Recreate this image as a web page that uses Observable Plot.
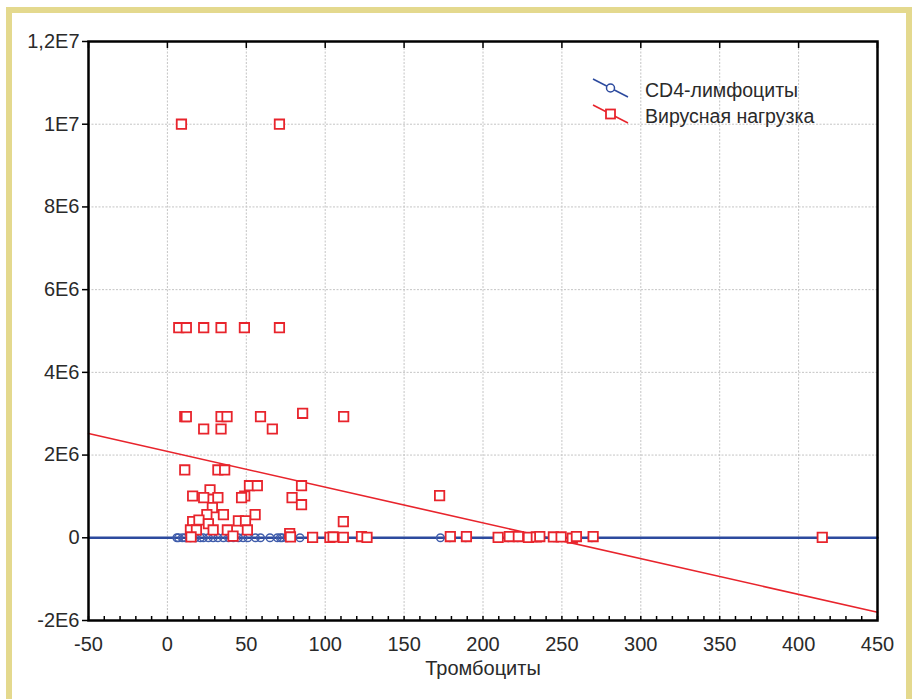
<!DOCTYPE html>
<html>
<head>
<meta charset="utf-8">
<script src="https://cdn.jsdelivr.net/npm/d3@7"></script>
<script src="https://cdn.jsdelivr.net/npm/@observablehq/plot@0.6"></script>
<style>
  body { margin: 0; background: #fff; }
  #wrap { position: relative; width: 912px; height: 699px; overflow: hidden; background: #fff; }
  #border { position: absolute; left: 6px; top: 7px; width: 906px; height: 760px; border: 6px solid #e4d98e; border-bottom: none; box-sizing: border-box; pointer-events: none; }
  #chart { position: absolute; left: 0; top: 0; }
  #legend { position: absolute; left: 0; top: 0; pointer-events: none; }
</style>
</head>
<body>
<div id="wrap">
  <div id="chart"></div>
  <svg id="legend" width="912" height="699"></svg>
  <div id="border"></div>
</div>
<script>
// ---- Data ----
// Вирусная нагрузка (viral load) vs Тромбоциты (platelets)
const vlX = [8.9, 71,
  7.2, 12, 23, 34, 48.8, 71,
  11, 12, 34, 37.8, 59, 111.7, 85.7,
  23, 34, 66.5,
  11, 32, 36.3,
  52, 57, 85,
  27,
  16, 49, 172.5,
  23, 32, 47, 79,
  85,
  28.5,
  25, 35.5, 55.6,
  45, 49.5, 111.5,
  16, 20, 26,
  14.6, 18.4, 29, 38, 50.7,
  15, 41.6, 77.5, 78, 92, 103, 105, 111.5, 123, 126.5,
  179.3, 189.5, 209.6, 216.7, 222.4, 228.8, 233.8, 236, 244.6, 249.5, 256.6, 259.2, 269.8, 415];
const vlY = [1.0e7, 1.0e7,
  5.08e6, 5.08e6, 5.08e6, 5.08e6, 5.08e6, 5.08e6,
  2.93e6, 2.93e6, 2.93e6, 2.93e6, 2.93e6, 2.93e6, 3.01e6,
  2.63e6, 2.63e6, 2.63e6,
  1.64e6, 1.64e6, 1.64e6,
  1.26e6, 1.26e6, 1.26e6,
  1.16e6,
  1.01e6, 1.01e6, 1.02e6,
  0.97e6, 0.97e6, 0.97e6, 0.97e6,
  0.80e6,
  0.73e6,
  0.56e6, 0.56e6, 0.56e6,
  0.41e6, 0.41e6, 0.39e6,
  0.39e6, 0.43e6, 0.34e6,
  0.19e6, 0.19e6, 0.19e6, 0.19e6, 0.19e6,
  2e4, 4e4, 1e5, 2e4, 1e4, 1e4, 2e4, 1e4, 3e4, 1e4,
  3e4, 3e4, 1e4, 3e4, 3e4, 1e4, 2e4, 3e4, 2e4, 2e4, -1e4, 3e4, 3e4, 1e4];

// CD4-лимфоциты vs Тромбоциты (values are tiny on this scale)
const cd4X = [6, 7, 9.5, 11.4, 14.6, 17.7, 20.9, 22.8, 26, 29, 32, 35.5, 38.7, 41.8, 45, 48, 51,
  55.8, 59, 65, 69.7, 71.6, 72.7, 75.8, 84, 173, 179, 189, 210, 216, 222, 234, 245, 257, 269];
const cd4Y = [420, 310, 560, 280, 390, 650, 240, 480, 350, 720, 300, 410, 520, 260, 610, 380, 450,
  330, 290, 540, 410, 360, 470, 250, 380, 600, 420, 510, 330, 460, 390, 280, 520, 440, 360];

// Fitted regression lines (end points at the x-domain edges)
const vlFitX = [-50, 450];
const vlFitY = [2.52e6, -1.80e6];
const cd4FitX = [-50, 450];
const cd4FitY = [480, 380];

// Axes
const xTicks = [-50, 0, 50, 100, 150, 200, 250, 300, 350, 400, 450];
const xTickLabels = ["-50", "0", "50", "100", "150", "200", "250", "300", "350", "400", "450"];
const xMinorTicks = d3.range(-50, 451, 10);
const yTicks = [-2e6, 0, 2e6, 4e6, 6e6, 8e6, 1e7, 1.2e7];
const yTickLabels = ["-2E6", "0", "2E6", "4E6", "6E6", "8E6", "1E7", "1,2E7"];
const xLabel = "Тромбоциты";
const seriesNames = ["CD4-лимфоциты", "Вирусная нагрузка"];

const RED = "#e8242c";
const BLUE = "#2c4a9e";
const FONT = "'Liberation Sans', Arial, sans-serif";

const vl = vlX.map((x, i) => ({x, y: vlY[i]}));
const cd4 = cd4X.map((x, i) => ({x, y: cd4Y[i]}));
const vlFit = vlFitX.map((x, i) => ({x, y: vlFitY[i]}));
const cd4Fit = cd4FitX.map((x, i) => ({x, y: cd4FitY[i]}));
const xLab = new Map(xTicks.map((t, i) => [t, xTickLabels[i]]));
const yLab = new Map(yTicks.map((t, i) => [t, yTickLabels[i]]));

const chart = Plot.plot({
  width: 912,
  height: 699,
  marginLeft: 88,
  marginRight: 35,
  marginTop: 41,
  marginBottom: 79,
  style: {fontFamily: FONT, fontSize: "20px", color: "#2a2a2a", background: "transparent"},
  x: {domain: [-50, 450]},
  y: {domain: [-2e6, 1.2e7]},
  marks: [
    Plot.gridX(xTicks, {stroke: "#c4c4c4", strokeOpacity: 1, strokeDasharray: "2,1.5"}),
    Plot.gridY(yTicks, {stroke: "#c4c4c4", strokeOpacity: 1, strokeDasharray: "2,1.5"}),
    Plot.line(vlFit, {x: "x", y: "y", stroke: RED, strokeWidth: 1.6}),
    Plot.line(cd4Fit, {x: "x", y: "y", stroke: BLUE, strokeWidth: 2.5}),
    Plot.dot(cd4, {x: "x", y: "y", r: 3.8, stroke: "#3f5cab", strokeWidth: 1.4, fill: "none"}),
    Plot.dot(vl, {x: "x", y: "y", symbol: "square", r: 5.3, stroke: RED, strokeWidth: 1.8, fill: "white"}),
    Plot.axisY(yTicks, {anchor: "left", tickSize: 6, tickPadding: 3, tickFormat: d => yLab.get(d), label: null, stroke: "black", strokeWidth: 1.5}),
    Plot.axisX(xTicks, {anchor: "bottom", tickSize: 0, tickPadding: 16, tickFormat: d => xLab.get(d), label: null}),
    Plot.axisX(xMinorTicks, {anchor: "bottom", tickSize: -4, tickFormat: () => "", label: null, stroke: "black", strokeWidth: 1.5}),
    Plot.axisX(xTicks, {anchor: "top", tickSize: -6, tickFormat: () => "", label: null, stroke: "black", strokeWidth: 1.5}),
    Plot.text([xLabel], {frameAnchor: "bottom", dy: 54, fontSize: 20, fill: "#2a2a2a"}),
    Plot.frame({stroke: "black", strokeWidth: 2.5})
  ]
});
document.getElementById("chart").appendChild(chart);

// Legend (drawn inside the plot area, top right)
const lg = d3.select("#legend");
const items = [
  {name: seriesNames[0], color: BLUE, symbol: "circle", y: 88},
  {name: seriesNames[1], color: RED, symbol: "square", y: 114}
];
items.forEach(it => {
  lg.append("line").attr("x1", 593).attr("y1", it.y - 9).attr("x2", 628).attr("y2", it.y + 9)
    .attr("stroke", it.color).attr("stroke-width", 1.5);
  if (it.symbol === "circle") {
    lg.append("circle").attr("cx", 610.5).attr("cy", it.y).attr("r", 4)
      .attr("fill", "white").attr("stroke", it.color).attr("stroke-width", 1.5);
  } else {
    lg.append("rect").attr("x", 606).attr("y", it.y - 4.5).attr("width", 9).attr("height", 9)
      .attr("fill", "white").attr("stroke", it.color).attr("stroke-width", 1.8);
  }
  lg.append("text").attr("x", 645).attr("y", it.y + 9).text(it.name)
    .attr("font-family", FONT).attr("font-size", 19.5).attr("fill", "#2a2a2a");
});
</script>
</body>
</html>
